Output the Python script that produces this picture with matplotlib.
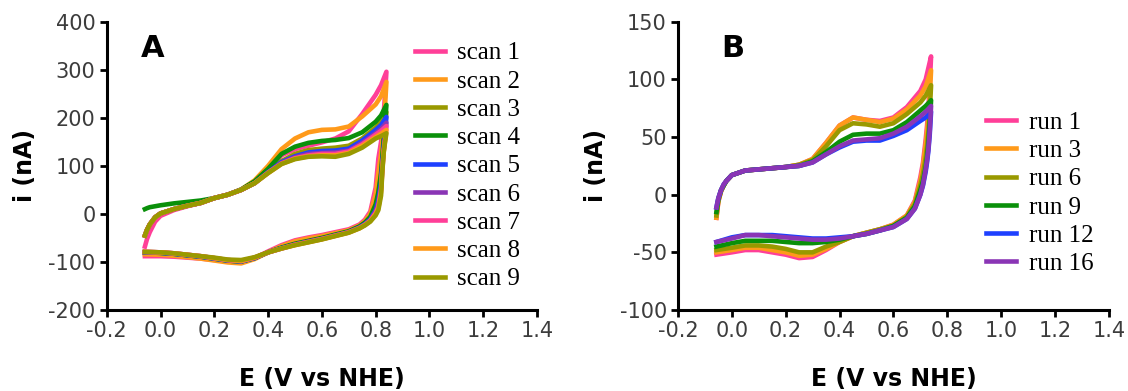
import numpy as np
import matplotlib.pyplot as plt

plt.rcParams['axes.unicode_minus'] = False

# ---------------- painel A: scans ----------------
E_fwd_A = [-0.058, -0.05, -0.04, -0.02, 0.0, 0.05, 0.1, 0.15, 0.2, 0.25, 0.3, 0.35,
           0.4, 0.45, 0.5, 0.55, 0.6, 0.65, 0.7, 0.75, 0.8, 0.82, 0.84]
E_rev_A = [0.84, 0.835, 0.83, 0.825, 0.82, 0.81, 0.8, 0.78, 0.76, 0.74, 0.7, 0.65, 0.6,
           0.55, 0.5, 0.45, 0.4, 0.35, 0.3, 0.25, 0.2, 0.15, 0.1, 0.05, 0.0, -0.058]

scan1_fwd = [-68, -52, -38, -16, -4, 8, 16, 23, 33, 40, 50, 65, 92, 122, 135, 142, 149, 157, 172, 208, 248, 268, 296]
scan2_fwd = [-45, -33, -22, -7, 1, 10, 17, 23, 33, 40, 51, 70, 100, 135, 157, 170, 175, 176, 182, 203, 228, 245, 275]
scan3_fwd = [-45, -33, -22, -7, 1, 10, 17, 23, 33, 40, 50, 65, 88, 110, 125, 133, 136, 138, 142, 157, 180, 192, 212]
scan4_fwd = [10, 12, 14, 16, 18, 22, 25, 28, 33, 40, 51, 68, 94, 125, 140, 148, 152, 154, 158, 170, 192, 205, 227]
scan5_fwd = [-45, -33, -22, -7, 1, 10, 17, 23, 33, 40, 50, 64, 87, 108, 120, 128, 131, 132, 136, 153, 175, 185, 202]
scan6_fwd = [-45, -33, -22, -7, 1, 10, 17, 23, 33, 40, 50, 64, 86, 106, 118, 125, 127, 128, 132, 148, 168, 177, 190]
scan7_fwd = [-45, -33, -22, -7, 1, 10, 17, 23, 33, 40, 50, 64, 86, 105, 116, 122, 125, 125, 130, 145, 165, 173, 183]
scan8_fwd = [-45, -33, -22, -7, 1, 10, 17, 23, 33, 40, 50, 64, 85, 104, 115, 120, 122, 122, 127, 142, 160, 167, 175]
scan9_fwd = [-45, -33, -22, -7, 1, 10, 17, 23, 33, 40, 50, 64, 85, 104, 114, 119, 120, 119, 125, 138, 157, 162, 168]

scan1_rev = [296, 250, 210, 175, 150, 115, 55, 5, -12, -22, -32, -38, -44, -49, -55, -65, -78, -92, -100, -99, -96, -93, -91, -89, -88, -88]
scan2_rev = [275, 225, 185, 150, 125, 85, 40, 0, -15, -24, -34, -40, -46, -51, -57, -67, -80, -94, -103, -101, -97, -93, -90, -87, -85, -84]
scan3_rev = [212, 180, 150, 115, 80, 40, 15, -8, -19, -27, -37, -44, -51, -57, -63, -71, -80, -92, -99, -97, -93, -89, -86, -83, -81, -80]
scan4_rev = [227, 190, 160, 120, 85, 45, 20, -6, -18, -26, -36, -43, -50, -56, -62, -70, -80, -92, -99, -97, -93, -89, -86, -83, -81, -80]
scan5_rev = [202, 170, 140, 105, 65, 28, 8, -11, -21, -28, -38, -45, -52, -58, -64, -71, -80, -92, -99, -97, -93, -89, -86, -83, -81, -80]
scan6_rev = [190, 160, 135, 100, 55, 20, 5, -13, -22, -29, -38, -45, -52, -58, -64, -72, -80, -91, -98, -96, -92, -88, -85, -82, -80, -79]
scan7_rev = [183, 155, 132, 95, 50, 15, 2, -14, -23, -29, -38, -45, -52, -58, -64, -72, -80, -91, -98, -96, -92, -88, -85, -82, -80, -79]
scan8_rev = [175, 152, 130, 93, 45, 12, 0, -15, -23, -30, -39, -46, -53, -59, -65, -72, -80, -91, -98, -96, -92, -88, -85, -82, -80, -79]
scan9_rev = [168, 150, 128, 90, 38, 8, -3, -16, -24, -30, -39, -46, -53, -59, -65, -72, -80, -90, -96, -95, -91, -88, -85, -82, -80, -79]

labels_A = ['scan 1', 'scan 2', 'scan 3', 'scan 4', 'scan 5', 'scan 6', 'scan 7', 'scan 8', 'scan 9']

# ---------------- painel B: runs ----------------
E_fwd_B = [-0.057, -0.05, -0.04, -0.03, -0.02, 0.0, 0.05, 0.1, 0.15, 0.2, 0.25, 0.3,
           0.35, 0.4, 0.45, 0.5, 0.55, 0.6, 0.65, 0.7, 0.72, 0.74]
E_rev_B = [0.74, 0.735, 0.73, 0.725, 0.72, 0.71, 0.7, 0.68, 0.65, 0.6, 0.55, 0.5,
           0.45, 0.4, 0.35, 0.3, 0.25, 0.2, 0.15, 0.1, 0.05, 0.0, -0.057]

run1_fwd = [-20, -6, 3, 8, 12, 17, 21, 22, 23, 24, 26, 31, 45, 60, 67, 65, 64, 67, 76, 90, 100, 120]
run3_fwd = [-20, -6, 3, 8, 12, 17, 21, 22, 23, 24, 26, 31, 45, 60, 67, 65, 63, 66, 74, 86, 94, 108]
run6_fwd = [-18, -5, 3, 8, 12, 17, 21, 22, 23, 24, 26, 30, 42, 56, 62, 61, 59, 62, 70, 80, 86, 95]
run9_fwd = [-15, -4, 4, 8, 12, 17, 21, 22, 23, 24, 25, 29, 37, 46, 52, 53, 53, 56, 63, 73, 77, 82]
run12_fwd = [-11, -3, 4, 9, 12, 17, 21, 22, 23, 24, 25, 28, 35, 41, 46, 47, 47, 51, 56, 64, 67, 72]
run16_fwd = [-11, -3, 4, 9, 12, 17, 21, 22, 23, 24, 25, 28, 35, 42, 47, 48, 49, 53, 59, 68, 72, 77]

run1_rev = [120, 95, 75, 60, 48, 28, 15, -5, -18, -26, -30, -33, -36, -41, -48, -54, -55, -52, -50, -48, -48, -50, -52]
run3_rev = [108, 85, 68, 55, 44, 25, 12, -6, -18, -26, -30, -33, -36, -41, -47, -52, -53, -50, -48, -46, -46, -48, -50]
run6_rev = [95, 72, 55, 42, 32, 18, 8, -8, -19, -27, -30, -33, -36, -41, -45, -50, -50, -47, -45, -44, -44, -46, -48]
run9_rev = [82, 62, 45, 33, 24, 12, 4, -10, -20, -27, -31, -34, -36, -39, -41, -42, -42, -41, -40, -40, -40, -42, -45]
run12_rev = [72, 52, 38, 28, 20, 8, 0, -12, -21, -28, -31, -34, -36, -37, -38, -38, -37, -36, -35, -35, -35, -37, -41]
run16_rev = [77, 55, 40, 30, 22, 9, 0, -12, -21, -28, -31, -34, -36, -38, -39, -39, -38, -37, -36, -35, -35, -38, -41]

labels_B = ['run 1', 'run 3', 'run 6', 'run 9', 'run 12', 'run 16']

# cores
pink, orange, olive = '#FF3F98', '#FF9A1A', '#999900'
green, blue, purple = '#0A900A', '#1E40FF', '#8A35B5'
cores_A = [pink, orange, olive, green, blue, purple, pink, orange, olive]
cores_B = [pink, orange, olive, green, blue, purple]

fwd_A = [scan1_fwd, scan2_fwd, scan3_fwd, scan4_fwd, scan5_fwd, scan6_fwd, scan7_fwd, scan8_fwd, scan9_fwd]
rev_A = [scan1_rev, scan2_rev, scan3_rev, scan4_rev, scan5_rev, scan6_rev, scan7_rev, scan8_rev, scan9_rev]
fwd_B = [run1_fwd, run3_fwd, run6_fwd, run9_fwd, run12_fwd, run16_fwd]
rev_B = [run1_rev, run3_rev, run6_rev, run9_rev, run12_rev, run16_rev]

fig = plt.figure(figsize=(11.28, 3.91), dpi=100)
axA = fig.add_axes([0.0946, 0.2072, 0.3815, 0.737])
axB = fig.add_axes([0.601, 0.2072, 0.382, 0.737])


def estilo(ax, ylim, yticks):
    ax.set_xlim(-0.2, 1.4)
    ax.set_ylim(*ylim)
    ax.set_xticks(np.arange(-0.2, 1.41, 0.2))
    ax.set_xticklabels([f'{v:.1f}' for v in np.arange(-0.2, 1.41, 0.2)])
    ax.set_yticks(yticks)
    for s in ['top', 'right']:
        ax.spines[s].set_visible(False)
    for s in ['left', 'bottom']:
        ax.spines[s].set_linewidth(2.2)
    ax.tick_params(direction='out', length=5, width=2, labelsize=15,
                   labelcolor='#3c3c3c', pad=3)
    ax.set_xlabel('E (V vs NHE)', fontsize=17, fontweight='bold', labelpad=19)
    ax.set_ylabel('i (nA)', fontsize=17, fontweight='bold', labelpad=8)


for f, r, c, lab in zip(fwd_A, rev_A, cores_A, labels_A):
    axA.plot(E_fwd_A + E_rev_A, f + r, color=c, lw=3.3, label=lab)
for f, r, c, lab in zip(fwd_B, rev_B, cores_B, labels_B):
    axB.plot(E_fwd_B + E_rev_B, f + r, color=c, lw=3.3, label=lab)

estilo(axA, (-200, 400), np.arange(-200, 401, 100))
estilo(axB, (-100, 150), np.arange(-100, 151, 50))

axA.text(0.08, 0.878, 'A', transform=axA.transAxes, fontsize=22, fontweight='bold')
axB.text(0.101, 0.878, 'B', transform=axB.transAxes, fontsize=22, fontweight='bold')

for ax, y0 in [(axA, 0.93), (axB, 0.689)]:
    ax.legend(loc='upper left', bbox_to_anchor=(0.7155, y0), frameon=False,
              prop={'family': 'Liberation Serif', 'size': 18}, handlelength=1.2,
              handletextpad=0.5, labelspacing=0.23, borderpad=0, borderaxespad=0)

plt.savefig('out.png', dpi=100)
